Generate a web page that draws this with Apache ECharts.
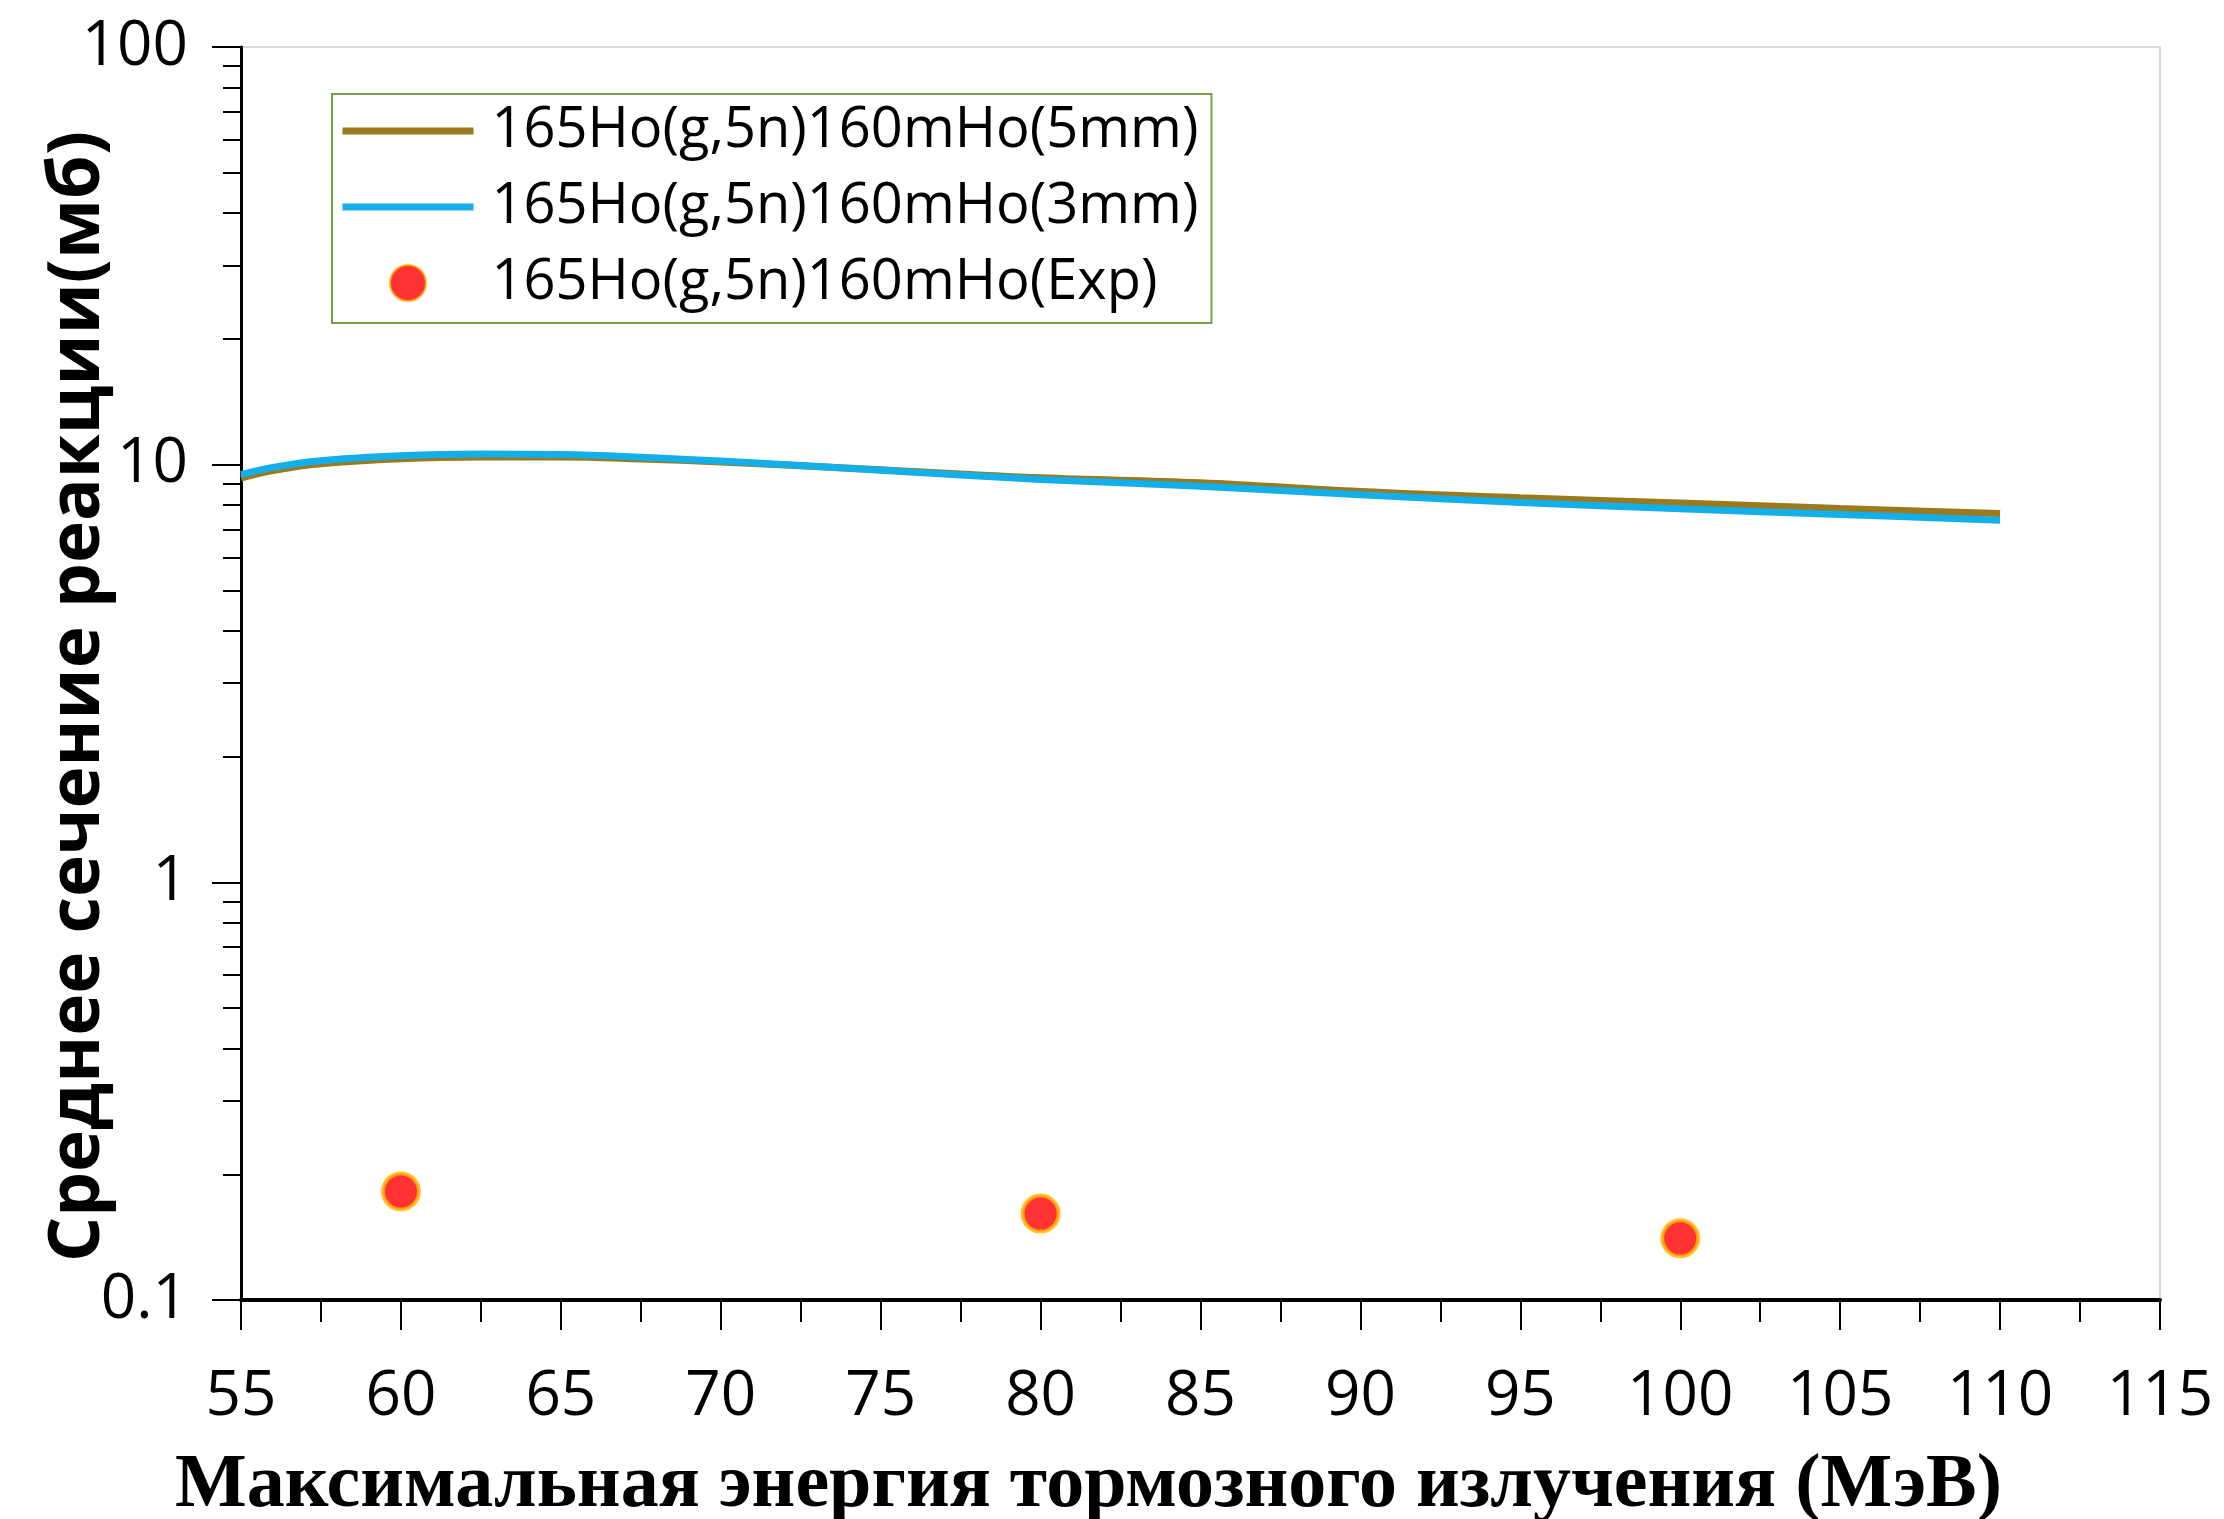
<!DOCTYPE html>
<html>
<head>
<meta charset="utf-8">
<script src="https://cdn.jsdelivr.net/npm/echarts@6/dist/echarts.min.js"></script>
<style>
html,body{margin:0;padding:0;background:#fff;}
#chart{width:2224px;height:1519px;}
</style>
</head>
<body>
<div id="chart"></div>
<script>
// ---- data ----
const seriesNames = ['165Ho(g,5n)160mHo(5mm)', '165Ho(g,5n)160mHo(3mm)', '165Ho(g,5n)160mHo(Exp)'];
const energy = [55, 56, 57.5, 60, 62.5, 65, 67.5, 70, 75, 80, 85, 90, 95, 100, 105, 110];
const sigma5mm = [9.29, 9.68, 10.05, 10.33, 10.43, 10.43, 10.32, 10.15, 9.72, 9.30, 9.05, 8.62, 8.33, 8.10, 7.85, 7.64];
const sigma3mm = [9.46, 9.85, 10.22, 10.50, 10.60, 10.57, 10.42, 10.20, 9.70, 9.22, 8.88, 8.47, 8.12, 7.84, 7.60, 7.36];
const expEnergy = [60, 80, 100];
const expSigma = [0.182, 0.161, 0.1405];
const xTicks = [55, 60, 65, 70, 75, 80, 85, 90, 95, 100, 105, 110, 115];
const yTickValues = [0.1, 1, 10, 100];
const yTickLabels = ['0.1', '1', '10', '100'];
const xTitle = 'Максимальная энергия тормозного излучения (МэВ)';
const yTitle = 'Среднее сечение реакции(мб)';

// minor log ticks 2..9 in each decade
const yMinor = [];
[0.1, 1, 10].forEach(d => { for (let k = 2; k <= 9; k++) yMinor.push(+(k * d).toPrecision(3)); });

const pairs = (xs, ys) => xs.map((x, i) => [x, ys[i]]);

const chart = echarts.init(document.getElementById('chart'), null, {renderer: 'canvas'});
const black = '#000';
const sans = 'Open Sans';
const brown = '#9b7a1d';
const blue = '#14aee8';

chart.setOption({
  backgroundColor: '#fff',
  animation: false,
  grid: {
    left: 241, right: 64, top: 47, bottom: 219,
    show: true, borderColor: '#d9d9d9', borderWidth: 2, backgroundColor: 'transparent',
    containLabel: false, outerBoundsMode: 'none'
  },
  legend: {
    orient: 'vertical',
    left: 332, top: 94,
    padding: [9, 13, 12, 7],
    borderColor: '#77a045', borderWidth: 2,
    backgroundColor: '#fff',
    itemWidth: 131, itemHeight: 36, itemGap: 20,
    textStyle: {fontFamily: sans, fontSize: 56, color: black, lineHeight: 56, padding: [0, 0, 0, 13]},
    data: [
      {name: seriesNames[0], itemStyle: {opacity: 0}, lineStyle: {color: brown, width: 7}},
      {name: seriesNames[1], itemStyle: {opacity: 0}, lineStyle: {color: blue, width: 7}},
      {name: seriesNames[2]}
    ]
  },
  xAxis: {
    type: 'value', min: 55, max: 115, interval: 5,
    name: xTitle, nameLocation: 'middle', nameGap: 148, nameMoveOverlap: false,
    nameTextStyle: {fontFamily: 'Liberation Serif', fontWeight: 'bold', fontSize: 76, color: black, padding: [0, 224, 0, 0]},
    axisLine: {show: true, onZero: false, lineStyle: {color: black, width: 4}},
    axisTick: {show: true, length: 30, lineStyle: {color: black, width: 2}},
    minorTick: {show: true, splitNumber: 2, length: 22, lineStyle: {color: black, width: 2}},
    axisLabel: {fontFamily: sans, fontSize: 62, color: black, margin: 66,
      formatter: v => xTicks.indexOf(v) >= 0 ? String(v) : ''},
    splitLine: {show: false}, minorSplitLine: {show: false}
  },
  yAxis: [
    {
      type: 'log', logBase: 10, min: 0.1, max: 100, position: 'left', offset: 0,
      name: yTitle, nameLocation: 'middle', nameGap: 127, nameMoveOverlap: false,
      nameTextStyle: {fontFamily: sans, fontWeight: 'bold', fontSize: 71, color: black, padding: [0, 46, 0, 0]},
      axisLine: {show: true, lineStyle: {color: black, width: 3}},
      axisTick: {show: true, length: 29, lineStyle: {color: black, width: 2}, customValues: yTickValues},
      axisLabel: {fontFamily: sans, fontSize: 62, color: black, margin: 53, customValues: yTickValues,
        formatter: v => { const i = yTickValues.findIndex(t => Math.abs(t - v) < 1e-9); return i >= 0 ? yTickLabels[i] : ''; }},
      splitLine: {show: false}
    },
    {
      type: 'log', logBase: 10, min: 0.1, max: 100, position: 'left', offset: 0,
      axisLine: {show: false},
      axisTick: {show: true, length: 18, lineStyle: {color: black, width: 2}, customValues: yMinor},
      axisLabel: {show: false},
      splitLine: {show: false}
    }
  ],
  series: [
    {
      name: seriesNames[0], type: 'line', data: pairs(energy, sigma5mm),
      smooth: 0.4, symbol: 'none', showSymbol: false,
      lineStyle: {color: brown, width: 7}, itemStyle: {color: brown}
    },
    {
      name: seriesNames[1], type: 'line', data: pairs(energy, sigma3mm),
      smooth: 0.4, symbol: 'none', showSymbol: false,
      lineStyle: {color: blue, width: 7}, itemStyle: {color: blue}
    },
    {
      name: seriesNames[2], type: 'scatter', data: pairs(expEnergy, expSigma),
      symbol: 'circle', symbolSize: 36,
      itemStyle: {color: '#ff0000', borderColor: '#ffb400', borderWidth: 4}
    }
  ]
});
</script>
</body>
</html>
